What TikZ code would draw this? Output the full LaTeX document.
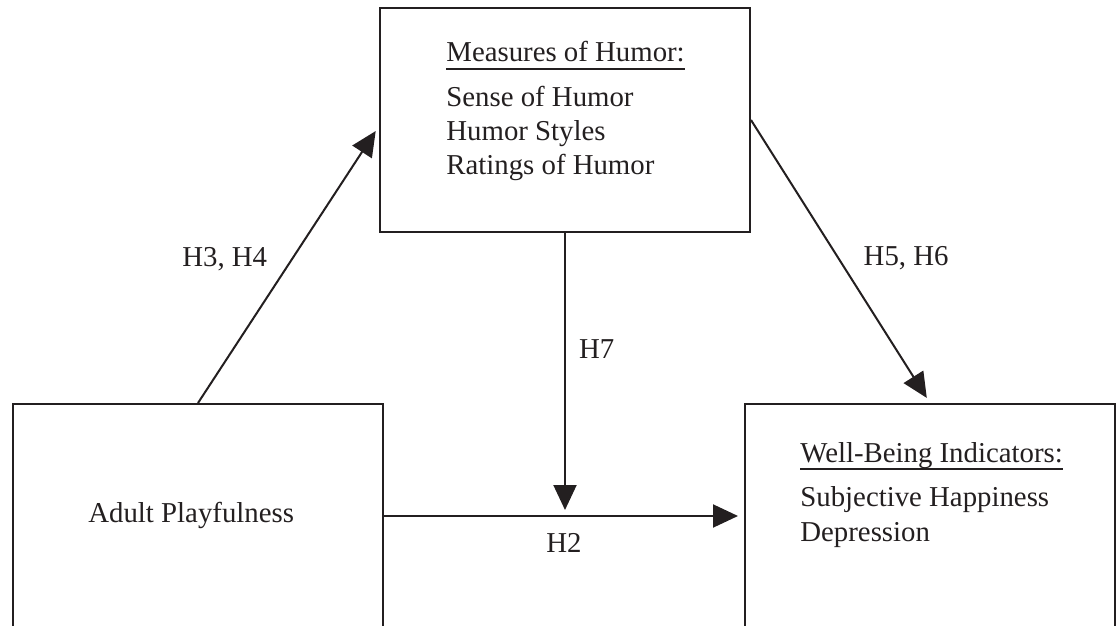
\documentclass[tikz,border=0pt]{standalone}
\usepackage{fontspec}
\setmainfont{Liberation Serif}
\usetikzlibrary{arrows.meta}
\usetikzlibrary{positioning}
\usepackage{xcolor}
\definecolor{ink}{RGB}{35,31,32}

\tikzset{
 box/.style={draw=ink, line width=1pt, minimum width=185pt, minimum height=112pt, inner sep=0},
 txt/.style={text=ink, inner sep=0, font=\fontsize{14.4}{17}\selectfont},
 head/.style={txt, text depth=3.5pt},
 link/.style={draw=ink, line width=1pt, -{Triangle[length=12.5pt,width=11.5pt]}, shorten >=3pt},
}

\begin{document}
\begin{tikzpicture}[x=.5pt, y=-.5pt]
\useasboundingbox (0,0) rectangle (1116,626);
% boxes
\node[box] (humor) at (565,120) {};
\node[box] (play) at (198,516) {};
\node[box] (well) at (930,516) {};
% texts in the boxes
\node[head, anchor=base west] (humorhead) at (446,62) {Measures of Humor:};
\draw[ink, line width=1pt] (humorhead.south west) -- (humorhead.south east);
\foreach \t [count=\i] in {Sense of Humor, Humor Styles, Ratings of Humor}
 \node[txt, anchor=base west] (humor\i) at (446, {73+34*\i}) {\t};
\node[head, anchor=base west] (wellhead) at (800,462) {Well-Being Indicators:};
\draw[ink, line width=1pt] (wellhead.south west) -- (wellhead.south east);
\foreach \t [count=\i] in {Subjective Happiness, Depression}
 \node[txt, anchor=base west] (well\i) at (800, {473+34*\i}) {\t};
\node[txt, anchor=base west] (playtext) at (88,523) {Adult Playfulness};
% paths
\coordinate (join) at (humor.south |- play.east);
\draw[link] (play.north) -- node[txt, pos=.52, left=12pt] (h34) {H3, H4} ([yshift=-3pt]humor.west);
\draw[link] (humor.east) -- node[txt, pos=.49, right=12pt] (h56) {H5, H6} (well.north);
\draw[link] (humor.south) -- node[txt, pos=.41, right=6.5pt] (h7) {H7} (join);
\draw[link] (play.east) -- node[txt, pos=.5, below=8pt] (h2) {H2} (well.west);
\end{tikzpicture}
\end{document}
